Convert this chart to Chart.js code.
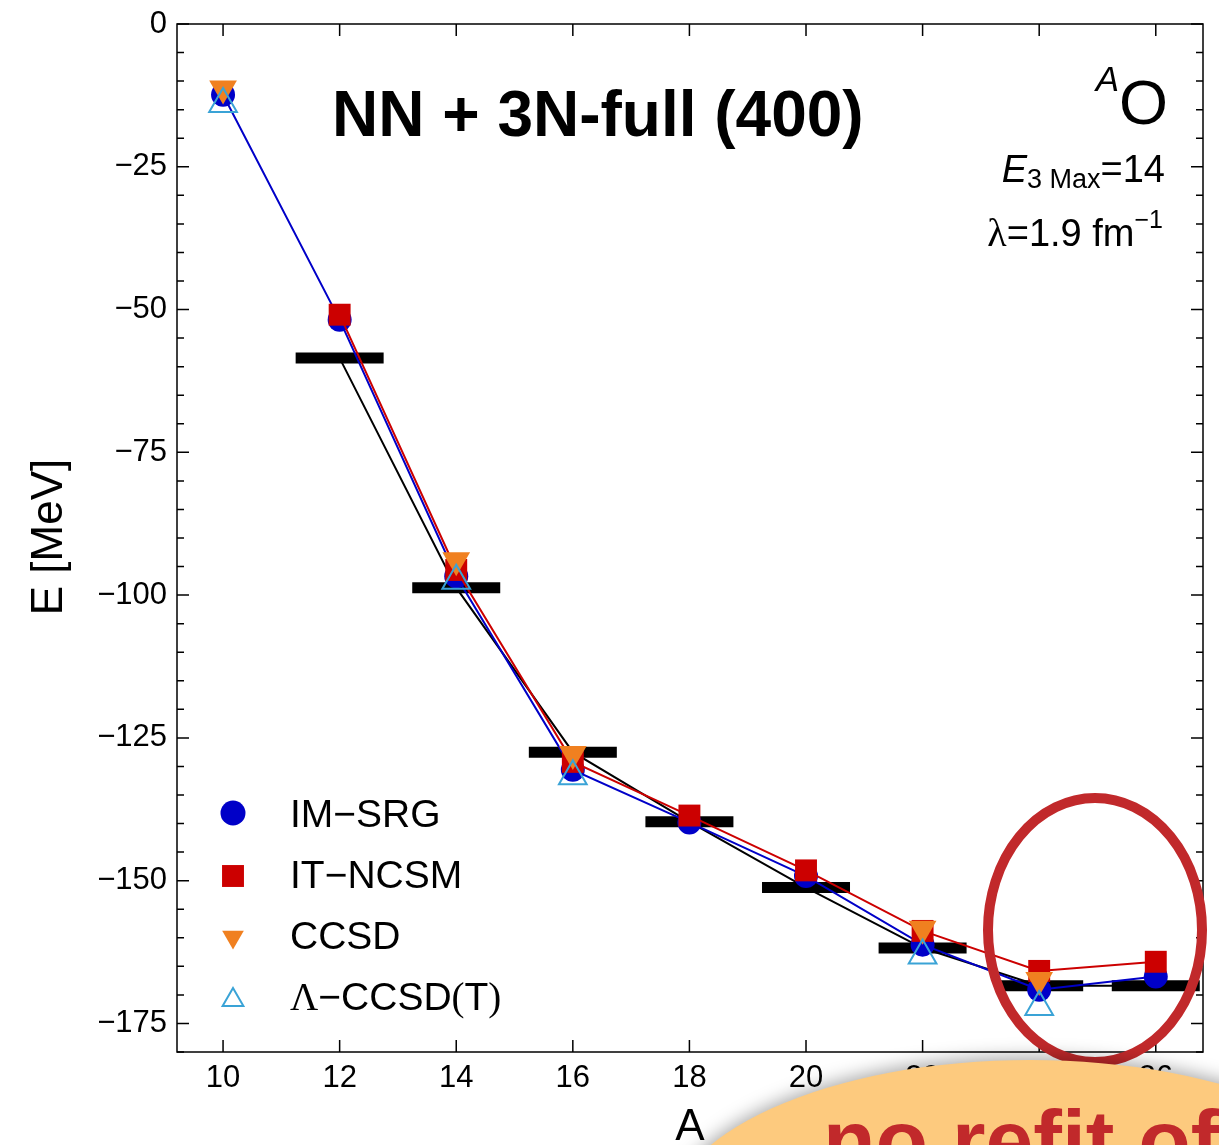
<!DOCTYPE html>
<html>
<head>
<meta charset="utf-8">
<title>Oxygen ground-state energies</title>
<script src="https://cdn.jsdelivr.net/npm/chart.js@4/dist/chart.umd.min.js"></script>
<style>
  html, body { margin: 0; padding: 0; background: #fff; }
  canvas { display: block; }
</style>
</head>
<body>
<canvas id="chart" width="1219" height="1145"></canvas>
<script>
// mass number A of the oxygen isotopes
const massNumbers = [10, 12, 14, 16, 18, 20, 22, 24, 26];

// energies in MeV, null where a method has no point
const experiment = [null, -58.5, -98.7, -127.5, -139.7, -151.2, -161.8, -168.4, -168.4];
const imSrg = [-12.4, -51.8, -96.7, -130.6, -139.8, -149.2, -161.2, -169.1, -166.8];
const itNcsm = [null, -50.9, -95.6, -129.2, -138.6, -148.2, -158.8, -165.8, -164.2];
const ccsd = [-11.3, null, -93.9, -127.8, null, null, -158.4, -167.4, null];
const lambdaCcsdT = [-14.0, null, -97.5, -131.7, null, null, -163.1, -172.1, null];

const xTicks = [10, 12, 14, 16, 18, 20, 22, 24, 26];
const yTicks = [-175, -150, -125, -100, -75, -50, -25, 0];

const SANS = '"Liberation Sans", Arial, Helvetica, sans-serif';
const SERIF = '"Liberation Serif", "Times New Roman", serif';

const BLUE = "#0000c8";
const RED = "#cc0000";
const ORANGE = "#f08020";
const LIGHTBLUE = "#3aa3d6";
const MARK_RED = "#c1292b";

function toPoints(values) {
  return massNumbers
    .map((a, i) => ({ x: a, y: values[i] }))
    .filter((p) => p.y !== null);
}

// legend entries (drawn inside the plot, lower left)
const legendItems = [
  { label: "IM\u2212SRG", style: "circle", radius: 12.5, rotation: 0, fill: BLUE, stroke: BLUE, width: 0 },
  { label: "IT\u2212NCSM", style: "rect", radius: 15.5, rotation: 0, fill: RED, stroke: RED, width: 0 },
  { label: "CCSD", style: "triangle", radius: 12.5, rotation: 180, fill: ORANGE, stroke: ORANGE, width: 0 },
  { label: "\u039B\u2212CCSD(T)", style: "triangle", radius: 12, rotation: 0, fill: "rgba(0,0,0,0)", stroke: LIGHTBLUE, width: 2 },
];

function drawMarker(ctx, item, x, y) {
  ctx.save();
  ctx.fillStyle = item.fill;
  ctx.strokeStyle = item.stroke;
  ctx.lineWidth = item.width;
  Chart.helpers.drawPoint(ctx, {
    pointStyle: item.style,
    radius: item.radius,
    rotation: item.rotation,
    borderWidth: item.width,
  }, x, y);
  ctx.restore();
}

// draws text pieces from a right edge leftwards
function drawRightAligned(ctx, pieces, right) {
  let x = right;
  for (let i = pieces.length - 1; i >= 0; i--) {
    const p = pieces[i];
    ctx.font = p.font;
    const w = ctx.measureText(p.text).width;
    x -= w;
    ctx.fillText(p.text, x, p.y);
  }
}

// no extra room for overhanging tick labels, so the plot box stays where it is
function noScalePadding(s) {
  s.paddingTop = 0;
  s.paddingBottom = 0;
  s.paddingLeft = 0;
  s.paddingRight = 0;
}

const framePlugin = {
  id: "frame",
  afterDraw(chart) {
    const ctx = chart.ctx;
    const a = chart.chartArea;
    const xs = chart.scales.x;
    const ys = chart.scales.y;

    ctx.save();
    ctx.strokeStyle = "#000";
    ctx.lineWidth = 1.5;
    ctx.strokeRect(a.left, a.top, a.right - a.left, a.bottom - a.top);

    // inward ticks, minor every 5 MeV on the sides
    ctx.beginPath();
    for (let v = -180; v <= 0; v += 5) {
      const y = ys.getPixelForValue(v);
      const len = v % 25 === 0 ? 12 : 7;
      ctx.moveTo(a.left, y);
      ctx.lineTo(a.left + len, y);
      ctx.moveTo(a.right, y);
      ctx.lineTo(a.right - len, y);
    }
    xTicks.forEach((v) => {
      const x = xs.getPixelForValue(v);
      ctx.moveTo(x, a.bottom);
      ctx.lineTo(x, a.bottom - 12);
      ctx.moveTo(x, a.top);
      ctx.lineTo(x, a.top + 12);
    });
    ctx.stroke();

    ctx.fillStyle = "#000";
    ctx.textBaseline = "alphabetic";

    // title
    ctx.font = "bold 64px " + SANS;
    ctx.textAlign = "left";
    ctx.fillText("NN + 3N-full (400)", 332, 136);

    // ^A O
    drawRightAligned(ctx, [
      { text: "A", font: "italic 35px " + SANS, y: 91 },
      { text: "O", font: "63px " + SANS, y: 124 },
    ], 1168);

    // E_3 Max = 14
    drawRightAligned(ctx, [
      { text: "E", font: "italic 38px " + SANS, y: 182 },
      { text: "3 Max", font: "27px " + SANS, y: 188 },
      { text: "=14", font: "38px " + SANS, y: 182 },
    ], 1165);

    // lambda = 1.9 fm^-1
    drawRightAligned(ctx, [
      { text: "\u03BB", font: "40px " + SERIF, y: 246 },
      { text: "=1.9 fm", font: "38px " + SANS, y: 246 },
      { text: "\u22121", font: "25px " + SANS, y: 228 },
    ], 1163);

    // legend
    const rowsY = [813, 876, 937, 1000];
    const baseY = [827, 888, 949, 1010];
    legendItems.forEach((item, i) => {
      drawMarker(ctx, item, 233, rowsY[i]);
      ctx.fillStyle = "#000";
      ctx.textAlign = "left";
      if (item.label.startsWith("\u039B")) {
        let x = 290;
        const parts = [
          ["\u039B", SERIF], ["\u2212CCSD", SANS], ["(", SERIF], ["T", SANS], [")", SERIF],
        ];
        parts.forEach(([t, f]) => {
          ctx.font = "39px " + f;
          ctx.fillText(t, x, baseY[i]);
          x += ctx.measureText(t).width;
        });
      } else {
        ctx.font = "39px " + SANS;
        ctx.fillText(item.label, 290, baseY[i]);
      }
    });

    // axis titles
    ctx.font = "44px " + SANS;
    ctx.textAlign = "center";
    ctx.fillText("A", (a.left + a.right) / 2, 1140);
    ctx.save();
    ctx.translate(62, 537);
    ctx.rotate(-Math.PI / 2);
    ctx.fillText("E [MeV]", 0, 0);
    ctx.restore();

    // red ring around A = 24, 26
    ctx.beginPath();
    ctx.ellipse(1095, 930, 107, 132, 0, 0, Math.PI * 2);
    ctx.lineWidth = 10;
    ctx.strokeStyle = MARK_RED;
    ctx.stroke();

    // speech bubble at the bottom
    ctx.save();
    ctx.shadowColor = "rgba(0,0,0,0.35)";
    ctx.shadowBlur = 18;
    ctx.shadowOffsetY = -3;
    ctx.beginPath();
    ctx.ellipse(1030, 1225, 365, 165, 0, 0, Math.PI * 2);
    ctx.fillStyle = "#fdca7e";
    ctx.fill();
    ctx.restore();

    ctx.font = "bold 86px " + SANS;
    ctx.textAlign = "left";
    ctx.fillStyle = MARK_RED;
    ctx.fillText("no refit of", 823, 1170);

    ctx.restore();
  },
};

new Chart(document.getElementById("chart"), {
  type: "line",
  data: {
    datasets: [
      {
        label: "Experiment",
        data: toPoints(experiment),
        borderColor: "#000",
        borderWidth: 2,
        pointStyle: "line",
        pointRadius: 44,
        pointBorderWidth: 11,
        pointBorderColor: "#000",
        pointBackgroundColor: "#000",
        order: 4,
      },
      {
        label: "IM-SRG",
        data: toPoints(imSrg),
        borderColor: BLUE,
        borderWidth: 2,
        pointStyle: "circle",
        pointRadius: 12,
        pointBorderWidth: 0,
        pointBackgroundColor: BLUE,
        order: 3,
      },
      {
        label: "IT-NCSM",
        data: toPoints(itNcsm),
        borderColor: RED,
        borderWidth: 2,
        pointStyle: "rect",
        pointRadius: 15.5,
        pointBorderWidth: 0,
        pointBackgroundColor: RED,
        order: 2,
      },
      {
        label: "CCSD",
        data: toPoints(ccsd),
        showLine: false,
        pointStyle: "triangle",
        pointRotation: 180,
        pointRadius: 16,
        pointBorderWidth: 0,
        pointBackgroundColor: ORANGE,
        order: 1,
      },
      {
        label: "\u039B-CCSD(T)",
        data: toPoints(lambdaCcsdT),
        showLine: false,
        pointStyle: "triangle",
        pointRadius: 16,
        pointBorderWidth: 2,
        pointBorderColor: LIGHTBLUE,
        pointBackgroundColor: "rgba(0,0,0,0)",
        order: 0,
      },
    ],
  },
  options: {
    responsive: false,
    animation: false,
    devicePixelRatio: 1,
    events: [],
    layout: {
      autoPadding: false,
      padding: { top: 24, right: 16, left: 0, bottom: 0 },
    },
    plugins: {
      legend: { display: false },
      tooltip: { enabled: false },
    },
    scales: {
      x: {
        type: "linear",
        min: 9.21,
        max: 26.81,
        grid: { display: false, drawTicks: false },
        border: { display: false },
        ticks: {
          color: "#000",
          font: { family: SANS, size: 31 },
          padding: 8,
          maxRotation: 0,
          autoSkip: false,
          callback: (v) => String(v),
        },
        afterBuildTicks: (s) => {
          s.ticks = xTicks.map((v) => ({ value: v }));
        },
        afterFit: (s) => {
          s.height = 93;
          noScalePadding(s);
        },
      },
      y: {
        type: "linear",
        min: -180,
        max: 0,
        grid: { display: false, drawTicks: false },
        border: { display: false },
        ticks: {
          color: "#000",
          font: { family: SANS, size: 31 },
          padding: 10,
          autoSkip: false,
          callback: (v) => (v === 0 ? "0" : "\u2212" + Math.abs(v)),
        },
        afterBuildTicks: (s) => {
          s.ticks = yTicks.map((v) => ({ value: v }));
        },
        afterFit: (s) => {
          s.width = 177;
          noScalePadding(s);
        },
      },
    },
  },
  plugins: [framePlugin],
});
</script>
</body>
</html>
